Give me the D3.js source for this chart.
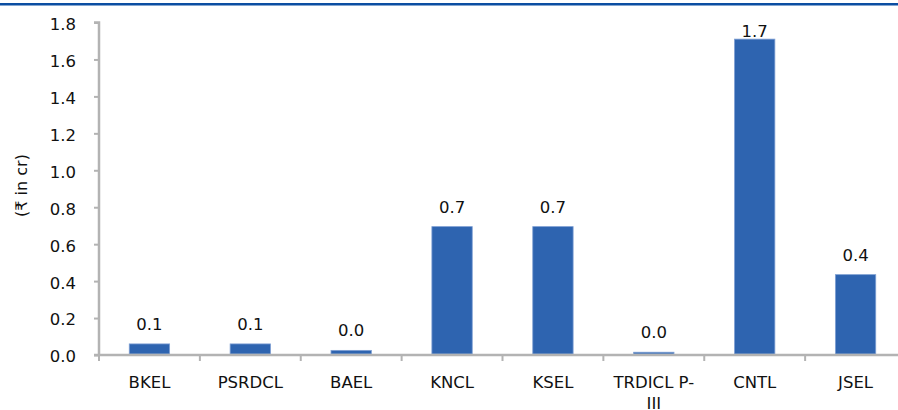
<!DOCTYPE html>
<html><head><meta charset="utf-8">
<script src="https://cdn.jsdelivr.net/npm/d3@7"></script>
<style>
html,body{margin:0;padding:0;background:#fff;overflow:hidden;}
text{font-family:"DejaVu Sans",sans-serif;fill:#111;}
</style></head>
<body><svg id="c" width="898" height="410"></svg>
<script>
const categories = ["BKEL","PSRDCL","BAEL","KNCL","KSEL","TRDICL P-III","CNTL","JSEL"];
const values = [0.06, 0.06, 0.025, 0.695, 0.695, 0.015, 1.71, 0.435];
const valueLabels = ["0.1","0.1","0.0","0.7","0.7","0.0","1.7","0.4"];
const yTicks = [0.0,0.2,0.4,0.6,0.8,1.0,1.2,1.4,1.6,1.8];
const yTitle = "(₹ in cr)";

const svg = d3.select("#c");
const pLeft = 99, pRight = 906, pTop = 22.5, pBottom = 355;
const FONT = "'DejaVu Sans',sans-serif";

// top rule
svg.append("rect").attr("x",0).attr("y",3).attr("width",898).attr("height",2.5).attr("fill","#0B4EA2");

const x = d3.scaleBand().domain(categories).range([pLeft,pRight]).paddingInner(0.6).paddingOuter(0.3);
const y = d3.scaleLinear().domain([0,1.8]).range([pBottom,pTop]);

// bars
svg.append("g").selectAll("rect").data(values).join("rect")
  .attr("x",(d,i)=>x(categories[i]))
  .attr("width",x.bandwidth())
  .attr("y",d=>y(d))
  .attr("height",d=>y(0)-y(d)-1)
  .attr("fill","#2E64B0")
  .attr("stroke","#7E9FD3").attr("stroke-width",0.8);

// y axis
const ya = svg.append("g").attr("transform",`translate(${pLeft},0)`)
  .call(d3.axisLeft(y).tickValues(yTicks).tickFormat(d3.format(".1f")).tickSize(5).tickPadding(18));
ya.select(".domain").attr("stroke","#B3B3B3").attr("stroke-width",2.5).attr("d",`M-5,${pTop}H0V${pBottom}`);
ya.selectAll(".tick line").attr("stroke","#B3B3B3").attr("stroke-width",2);
ya.selectAll(".tick text").attr("font-size",16.5).attr("fill","#111").attr("dy","0.42em").style("font-family",FONT);

// x axis
const xa = svg.append("g").attr("transform",`translate(0,${pBottom})`)
  .call(d3.axisBottom(x).tickSize(0).tickPadding(21));
xa.select(".domain").attr("stroke","#B3B3B3").attr("stroke-width",2.5).attr("d",`M${pLeft-5},0H${pRight}`);
xa.selectAll(".tick text").attr("font-size",16.5).attr("fill","#111").style("font-family",FONT)
  .each(function(d){
    const t=d3.select(this);
    if(d==="TRDICL P-III"){
      t.text(null);
      t.append("tspan").attr("x",0).attr("dy","0.71em").text("TRDICL P-");
      t.append("tspan").attr("x",0).attr("dy","1.3em").text("III");
    }
  });
// boundary ticks
const bounds = categories.map(c=>x(c)-(x.step()-x.bandwidth())/2);
svg.append("g").selectAll("line").data(bounds).join("line")
  .attr("x1",d=>d).attr("x2",d=>d).attr("y1",pBottom).attr("y2",pBottom+6)
  .attr("stroke","#B3B3B3").attr("stroke-width",2);

// value labels
svg.append("g").selectAll("text").data(values).join("text")
  .attr("x",(d,i)=>x(categories[i])+x.bandwidth()/2)
  .attr("y",d=>Math.max(y(d)-14,36.5))
  .attr("text-anchor","middle").attr("font-size",16.5)
  .text((d,i)=>valueLabels[i]);

// y title
svg.append("text").attr("transform",`translate(27,185.5) rotate(-90)`)
  .attr("text-anchor","middle").attr("font-size",16).text(yTitle);
</script></body></html>
